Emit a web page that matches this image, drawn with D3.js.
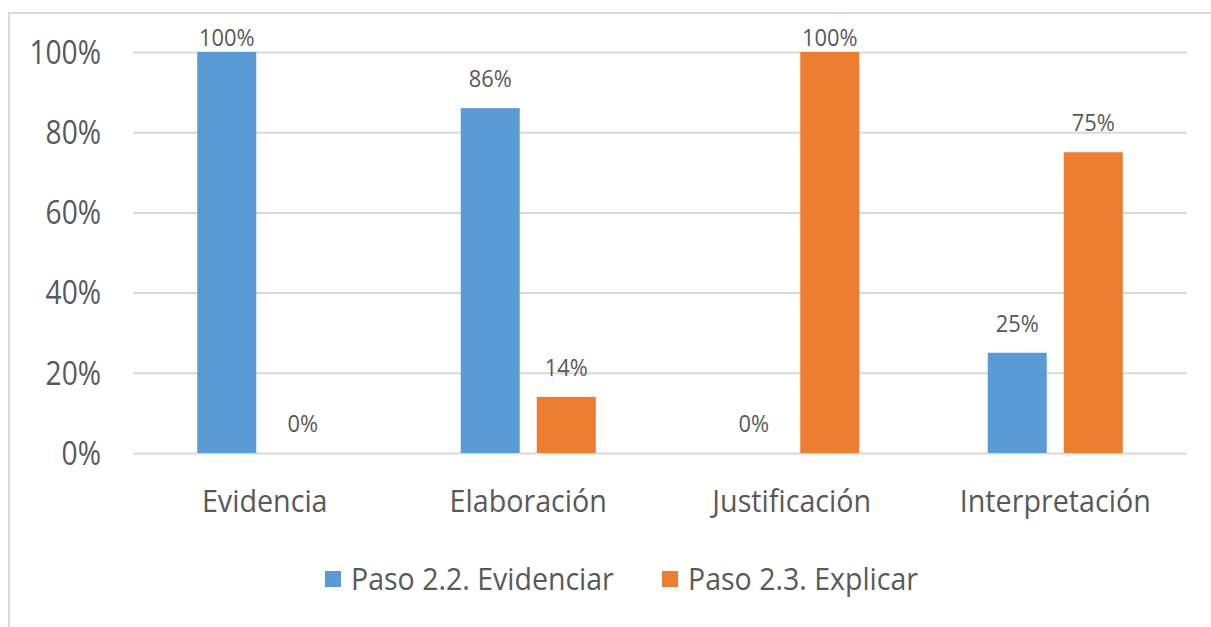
<!DOCTYPE html>
<html><head><meta charset="utf-8">
<script src="https://cdn.jsdelivr.net/npm/d3@7"></script>
<style>
body{margin:0;background:#fff;}
svg{display:block;}
text{font-family:"Open Sans",sans-serif;fill:#595959;}
</style></head>
<body><svg id="c" width="1211" height="627"></svg>
<script>
const categories = ["Evidencia","Elaboración","Justificación","Interpretación"];
const seriesNames = ["Paso 2.2. Evidenciar","Paso 2.3. Explicar"];
const evidenciar = [1.00, 0.86, 0.00, 0.25];
const explicar = [0.00, 0.14, 1.00, 0.75];
const yTicks = [0, 0.2, 0.4, 0.6, 0.8, 1.0];
const colors = ["#5B9BD5","#ED7D31"];

const svg = d3.select("#c");
const W = 1211, H = 627;
const plot = {left:133, right:1187, top:52, bottom:453};

// chart border
svg.append("rect").attr("x",9).attr("y",13).attr("width",W).attr("height",H)
  .attr("fill","none").attr("stroke","#d9d9d9").attr("stroke-width",2);

const x = d3.scaleBand().domain(categories).range([plot.left, plot.right]).paddingInner(0).paddingOuter(0);
const xs = d3.scaleBand().domain(seriesNames).range([0, x.bandwidth()]).paddingInner(0.2237).paddingOuter(0.845);
const y = d3.scaleLinear().domain([0,1]).range([plot.bottom, plot.top]);

function squeeze(sel, k){
  sel.each(function(){
    const L = this.getComputedTextLength();
    d3.select(this).attr("textLength", L*k).attr("lengthAdjust","spacingAndGlyphs");
  });
}

// gridlines + y labels via axis
const yAxis = d3.axisLeft(y).tickValues(yTicks).tickFormat(d3.format(".0%")).tickSize(-(plot.right-plot.left)).tickPadding(32);
const ga = svg.append("g").attr("transform",`translate(${plot.left},0)`).call(yAxis);
ga.select(".domain").remove();
ga.selectAll(".tick line").attr("stroke","#d9d9d9").attr("stroke-width",2);
ga.selectAll(".tick text").attr("font-size",32).attr("fill","#595959").attr("dy","0.35em");
squeeze(ga.selectAll(".tick text"), 0.88);

// bars
const data = [];
categories.forEach((c,i)=>{
  data.push({c, s:seriesNames[0], v:evidenciar[i], col:colors[0]});
  data.push({c, s:seriesNames[1], v:explicar[i], col:colors[1]});
});
svg.append("g").selectAll("rect").data(data).join("rect")
  .attr("x", d=>x(d.c)+xs(d.s)).attr("width", xs.bandwidth())
  .attr("y", d=>y(d.v)).attr("height", d=>y(0)-y(d.v))
  .attr("fill", d=>d.col);

// data labels
const lbl = svg.append("g").selectAll("text").data(data).join("text")
  .attr("x", d=>x(d.c)+xs(d.s)+xs.bandwidth()/2)
  .attr("y", d=>Math.max(y(d.v)-21, y(1)-6))
  .attr("text-anchor","middle").attr("font-size",23)
  .text(d=>d3.format(".0%")(d.v));
squeeze(lbl, 0.95);

// category labels
const cl = svg.append("g").selectAll("text").data(categories).join("text")
  .attr("x", d=>x(d)+x.bandwidth()/2).attr("y", 512)
  .attr("text-anchor","middle").attr("font-size",31).text(d=>d);
squeeze(cl, 0.925);

// legend
const legX = [325, 662];
const lg = svg.append("g").selectAll("g").data(seriesNames).join("g")
  .attr("transform",(d,i)=>`translate(${legX[i]},571)`);
lg.append("rect").attr("width",16).attr("height",16).attr("fill",(d,i)=>colors[i]);
const lt = lg.append("text").attr("x",26).attr("y",19).attr("font-size",31).text(d=>d);
squeeze(lt, 0.92);
</script></body></html>
